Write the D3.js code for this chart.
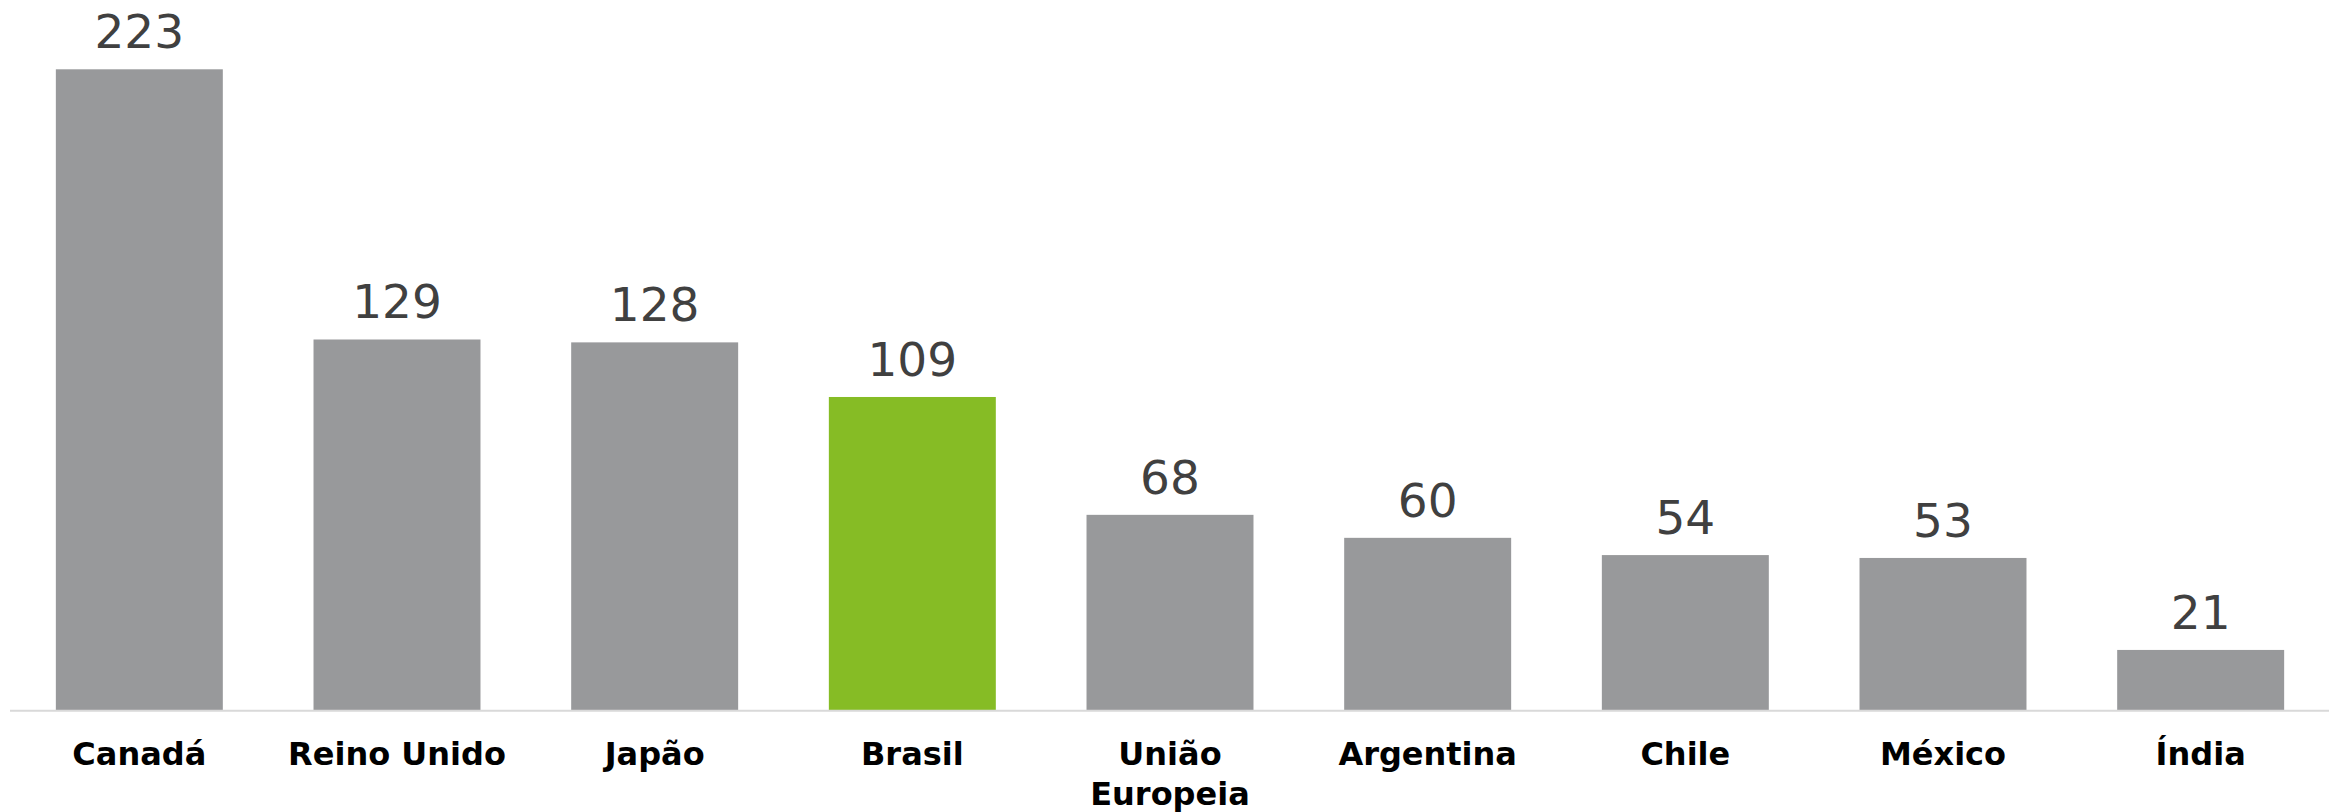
<!DOCTYPE html>
<html><head><meta charset="utf-8">
<script src="https://cdn.jsdelivr.net/npm/d3@7"></script>
<style>html,body{margin:0;padding:0;background:#fff;}svg{display:block;}</style>
</head><body>
<svg id="chart" width="2341" height="812"></svg>
<script>
const categories = ["Canadá", "Reino Unido", "Japão", "Brasil", "União\nEuropeia", "Argentina", "Chile", "México", "Índia"];
const values = [223, 129, 128, 109, 68, 60, 54, 53, 21];
const highlight = "Brasil";

const svg = d3.select("#chart");
const baseY = 710.3, topY = 69.3;

const x = d3.scaleBand().domain(categories).range([10.5, 2329.5]).paddingInner(0.352).paddingOuter(0.176);
const y = d3.scaleLinear().domain([0, 223]).range([baseY, topY]);

const data = categories.map((c, i) => ({c, v: values[i]}));

svg.selectAll("rect.bar").data(data).join("rect")
  .attr("class", "bar")
  .attr("x", d => x(d.c))
  .attr("width", x.bandwidth())
  .attr("y", d => y(d.v))
  .attr("height", d => y(0) - y(d.v))
  .attr("fill", d => d.c === highlight ? "#86bc25" : "#98999b");

svg.append("line")
  .attr("x1", 10).attr("x2", 2329)
  .attr("y1", baseY + 0.5).attr("y2", baseY + 0.5)
  .attr("stroke", "#d9d9d9").attr("stroke-width", 2);

svg.selectAll("text.val").data(data).join("text")
  .attr("class", "val")
  .attr("x", d => x(d.c) + x.bandwidth() / 2)
  .attr("y", d => y(d.v) - 21)
  .attr("text-anchor", "middle")
  .attr("font-family", "DejaVu Sans, Verdana, sans-serif")
  .attr("font-size", 47)
  .attr("fill", "#404040")
  .text(d => d.v);

const cl = svg.selectAll("text.cat").data(data).join("text")
  .attr("class", "cat")
  .attr("text-anchor", "middle")
  .attr("font-family", "DejaVu Sans, Verdana, sans-serif")
  .attr("font-weight", "bold")
  .attr("font-size", 32)
  .attr("fill", "#000");
cl.each(function(d) {
  const t = d3.select(this);
  d.c.split("\n").forEach((line, i) => {
    t.append("tspan")
      .attr("x", x(d.c) + x.bandwidth() / 2)
      .attr("y", 765 + i * 39.5)
      .text(line);
  });
});
</script>
</body></html>
